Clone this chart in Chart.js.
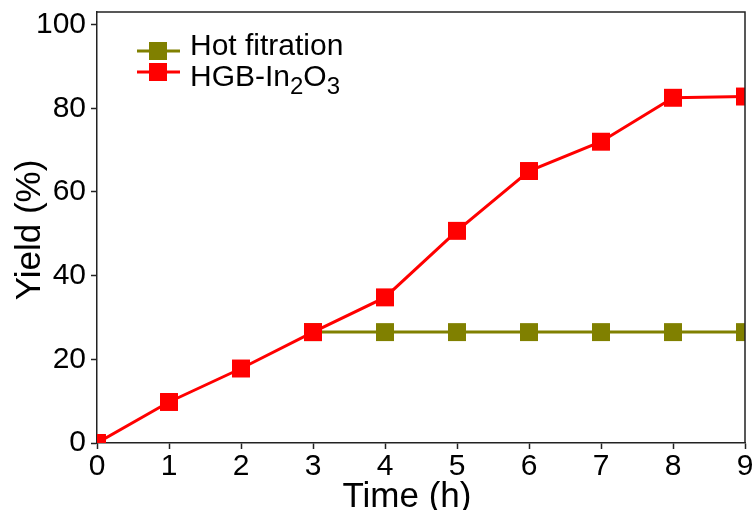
<!DOCTYPE html>
<html lang="en">
<head>
  <meta charset="UTF-8">
  <title>Yield vs Time</title>
  <script src="https://cdn.jsdelivr.net/npm/chart.js"></script>
  <style>
    body { margin: 0; background: #fff; }
    #wrap { width: 755px; height: 510px; }
  </style>
</head>
<body>
  <div id="wrap"><canvas id="chart" width="755" height="510"></canvas></div>

  <script>
    const hours = [0, 1, 2, 3, 4, 5, 6, 7, 8, 9];
    const hgbYield = [0, 9.8, 17.8, 26.5, 34.8, 50.7, 65.0, 72.0, 82.5, 82.8];
    const hotYield = [null, null, null, 26.5, 26.5, 26.5, 26.5, 26.5, 26.5, 26.5];
    const xTicks = [0, 1, 2, 3, 4, 5, 6, 7, 8, 9];
    const yTicks = [0, 20, 40, 60, 80, 100];

    const FONT = "'Liberation Sans', Arial, sans-serif";
    Chart.defaults.font.family = FONT;
    Chart.defaults.color = '#000';

    const toPoints = ys => hours.map((h, i) => ({ x: h, y: ys[i] }));

    // box frame (top + right) and the legend / axis titles drawn by hand
    const decor = {
      id: 'decor',
      afterDatasetsDraw(chart) {
        const { ctx, chartArea: a } = chart;
        ctx.save();
        ctx.strokeStyle = '#222';
        ctx.lineWidth = 1.5;
        ctx.beginPath();
        ctx.moveTo(a.left, a.top);
        ctx.lineTo(a.right, a.top);
        ctx.lineTo(a.right, a.bottom);
        ctx.stroke();
        ctx.restore();
      },
      afterDraw(chart) {
        const { ctx } = chart;
        ctx.save();
        // legend
        const rows = [
          { ds: chart.data.datasets[0], ly: 51, ty: 55 },
          { ds: chart.data.datasets[1], ly: 72, ty: 86 }
        ];
        rows.forEach(r => {
          ctx.strokeStyle = r.ds.borderColor;
          ctx.lineWidth = 3;
          ctx.beginPath();
          ctx.moveTo(137, r.ly);
          ctx.lineTo(180, r.ly);
          ctx.stroke();
          ctx.fillStyle = r.ds.borderColor;
          ctx.fillRect(149, r.ly - 9, 18, 18);
          drawLabel(ctx, r.ds.label, 190, r.ty);
        });
        // axis titles
        ctx.fillStyle = '#000';
        ctx.font = '35px ' + FONT;
        ctx.textAlign = 'center';
        ctx.textBaseline = 'alphabetic';
        ctx.fillText('Time (h)', 407, 507);
        ctx.translate(40, 230);
        ctx.rotate(-Math.PI / 2);
        ctx.fillText('Yield (%)', 0, 0);
        ctx.restore();
      }
    };

    // text with subscript digits (₂ ₃) drawn smaller and lowered
    function drawLabel(ctx, text, x, y) {
      const subs = { '₂': '2', '₃': '3' };
      ctx.fillStyle = '#000';
      ctx.textAlign = 'left';
      ctx.textBaseline = 'alphabetic';
      for (const ch of text) {
        if (subs[ch]) {
          ctx.font = '24px ' + FONT;
          ctx.fillText(subs[ch], x, y + 8);
          x += ctx.measureText(subs[ch]).width;
        } else {
          ctx.font = '30px ' + FONT;
          ctx.fillText(ch, x, y);
          x += ctx.measureText(ch).width;
        }
      }
    }

    new Chart(document.getElementById('chart'), {
      type: 'line',
      data: {
        datasets: [
          {
            label: 'Hot fitration',
            data: toPoints(hotYield),
            borderColor: '#808000',
            backgroundColor: '#808000',
            borderWidth: 3,
            pointStyle: 'rect',
            pointRadius: 12.7,
            pointBorderWidth: 0,
            clip: 0,
            order: 1
          },
          {
            label: 'HGB-In₂O₃',
            data: toPoints(hgbYield),
            borderColor: '#ff0000',
            backgroundColor: '#ff0000',
            borderWidth: 3,
            pointStyle: 'rect',
            pointRadius: 12.7,
            pointBorderWidth: 0,
            clip: 0,
            order: 0
          }
        ]
      },
      options: {
        responsive: false,
        animation: false,
        layout: { autoPadding: false, padding: { top: 12, right: 10, left: 0, bottom: 0 } },
        plugins: {
          legend: { display: false },
          tooltip: { enabled: false }
        },
        scales: {
          x: {
            type: 'linear',
            min: 0,
            max: 9,
            afterBuildTicks: s => { s.ticks = xTicks.map(v => ({ value: v })); },
            afterFit: s => { s.height = 67; s.paddingLeft = 0; s.paddingRight = 0; },
            grid: { drawOnChartArea: false, tickLength: 6, tickColor: '#222', tickWidth: 1.5 },
            border: { color: '#222', width: 1.5 },
            ticks: { font: { size: 30 }, padding: 0, color: '#000', maxRotation: 0 }
          },
          y: {
            min: 0,
            max: 103,
            afterBuildTicks: s => { s.ticks = yTicks.map(v => ({ value: v })); },
            afterFit: s => { s.width = 97; s.paddingTop = 0; s.paddingBottom = 0; },
            grid: { drawOnChartArea: false, tickLength: 6, tickColor: '#222', tickWidth: 1.5 },
            border: { color: '#222', width: 1.5 },
            ticks: { font: { size: 30 }, padding: 5, color: '#000' }
          }
        }
      },
      plugins: [decor]
    });
  </script>
</body>
</html>
